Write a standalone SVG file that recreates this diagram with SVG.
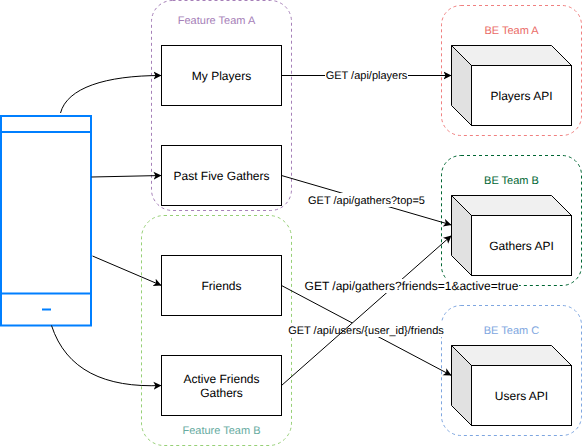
<svg xmlns="http://www.w3.org/2000/svg" width="582" height="447" viewBox="0 0 582 447">
<style>
text{font-family:"Liberation Sans",Arial,sans-serif;font-size:12px;text-anchor:middle;fill:#000;text-rendering:geometricPrecision}
.n{fill:#fff;stroke:#000;stroke-width:1}
.t{fill:none;stroke-width:1;stroke-dasharray:3 3}
.s{font-size:11px}
.l{fill:#fff}
.c{fill:none;stroke:#000;stroke-width:1;marker-end:url(#a)}
.p{fill:#fff;stroke:#007fff;stroke-width:2}
</style>
<defs><marker id="a" markerUnits="userSpaceOnUse" markerWidth="10" markerHeight="10" refX="8" refY="4.5" orient="auto"><path d="M0,0.5L8,4.5L0,8.5L2,4.5Z" fill="#000"/></marker></defs>
<rect width="582" height="447" fill="#fff"/>
<g id="team-feature-a"><rect class="t" x="151.500" y="0.500" width="140" height="210" rx="21" stroke="#a680b8"/><text class="s" x="216.500" y="24" style="fill:#a680b8">Feature Team A</text></g>
<g id="team-feature-b"><rect class="t" x="141.500" y="215.500" width="150" height="230" rx="22.500" stroke="#97d077"/><text class="s" x="221.500" y="434" style="fill:#67ab9f">Feature Team B</text></g>
<g id="team-be-a"><rect class="t" x="441.500" y="5.500" width="140" height="130" rx="19.500" stroke="#f08080"/><text class="s" x="511.500" y="34" style="fill:#ea6b66">BE Team A</text></g>
<g id="team-be-b"><rect class="t" x="441.500" y="155.500" width="140" height="130" rx="19.500" stroke="#006633"/><text class="s" x="511.500" y="184" style="fill:#006633">BE Team B</text></g>
<g id="team-be-c"><rect class="t" x="441.500" y="305.500" width="140" height="130" rx="19.500" stroke="#7ea6e0"/><text class="s" x="511.500" y="334" style="fill:#7ea6e0">BE Team C</text></g>
<g id="phone"><rect class="p" x="1" y="116" width="90" height="209.500"/><path d="M1,132H91M1,293.500H91" fill="none" stroke="#007fff" stroke-width="2"/><path d="M42,309.500H51" fill="none" stroke="#007fff" stroke-width="2"/></g>
<g id="connectors">
<path class="c" d="M60.500,113C67,88 105,75.500 161.500,75.500"/>
<path class="c" d="M91.500,177L161.500,175.500"/>
<path class="c" d="M92.500,256L161.500,285.500"/>
<path class="c" d="M51.500,325.500C66,370 105,388 161.500,385.500"/>
<path class="c" d="M281.500,75.500H451.500"/>
<rect class="l" x="325" y="68" width="83" height="14"/><text class="s" x="366.500" y="79">GET /api/players</text>
<path class="c" d="M281.500,175.500L451.500,225"/>
<rect class="l" x="307" y="193" width="119" height="14"/><text class="s" x="366.500" y="204">GET /api/gathers?top=5</text>
<path class="c" d="M281.500,285.500L451.500,375.500"/>
<rect class="l" x="288" y="323" width="157" height="14"/><text class="s" x="366" y="334">GET /api/users/{user_id}/friends</text>
<path class="c" d="M281.500,385.500L451.500,235.500"/>
<rect class="l" x="304" y="279" width="215" height="14"/><text x="411.500" y="290">GET /api/gathers?friends=1&amp;active=true</text>
</g>
<g id="my-players"><rect class="n" x="161.500" y="45.500" width="120" height="60"/><text x="221.500" y="80">My Players</text></g>
<g id="past-five-gathers"><rect class="n" x="161.500" y="145.500" width="120" height="60"/><text x="221.500" y="180">Past Five Gathers</text></g>
<g id="friends"><rect class="n" x="161.500" y="255.500" width="120" height="60"/><text x="221.500" y="290">Friends</text></g>
<g id="active-friends-gathers"><rect class="n" x="161.500" y="355.500" width="120" height="60"/><text x="221.500" y="383">Active Friends</text><text x="221.500" y="397">Gathers</text></g>
<g id="players-api"><path d="M451.500,45.500H551.500L571.500,65.500H471.500Z" fill="#f0f0f0" stroke="#000"/><path d="M451.500,45.500L471.500,65.500V125.500L451.500,105.500Z" fill="#e1e1e1" stroke="#000"/><rect class="n" x="471.500" y="65.500" width="100" height="60"/><text x="521.500" y="100">Players API</text></g>
<g id="gathers-api"><path d="M451.500,195.500H551.500L571.500,215.500H471.500Z" fill="#f0f0f0" stroke="#000"/><path d="M451.500,195.500L471.500,215.500V275.500L451.500,255.500Z" fill="#e1e1e1" stroke="#000"/><rect class="n" x="471.500" y="215.500" width="100" height="60"/><text x="521.500" y="250">Gathers API</text></g>
<g id="users-api"><path d="M451.500,345.500H551.500L571.500,365.500H471.500Z" fill="#f0f0f0" stroke="#000"/><path d="M451.500,345.500L471.500,365.500V425.500L451.500,405.500Z" fill="#e1e1e1" stroke="#000"/><rect class="n" x="471.500" y="365.500" width="100" height="60"/><text x="521.500" y="400">Users API</text></g>
</svg>
